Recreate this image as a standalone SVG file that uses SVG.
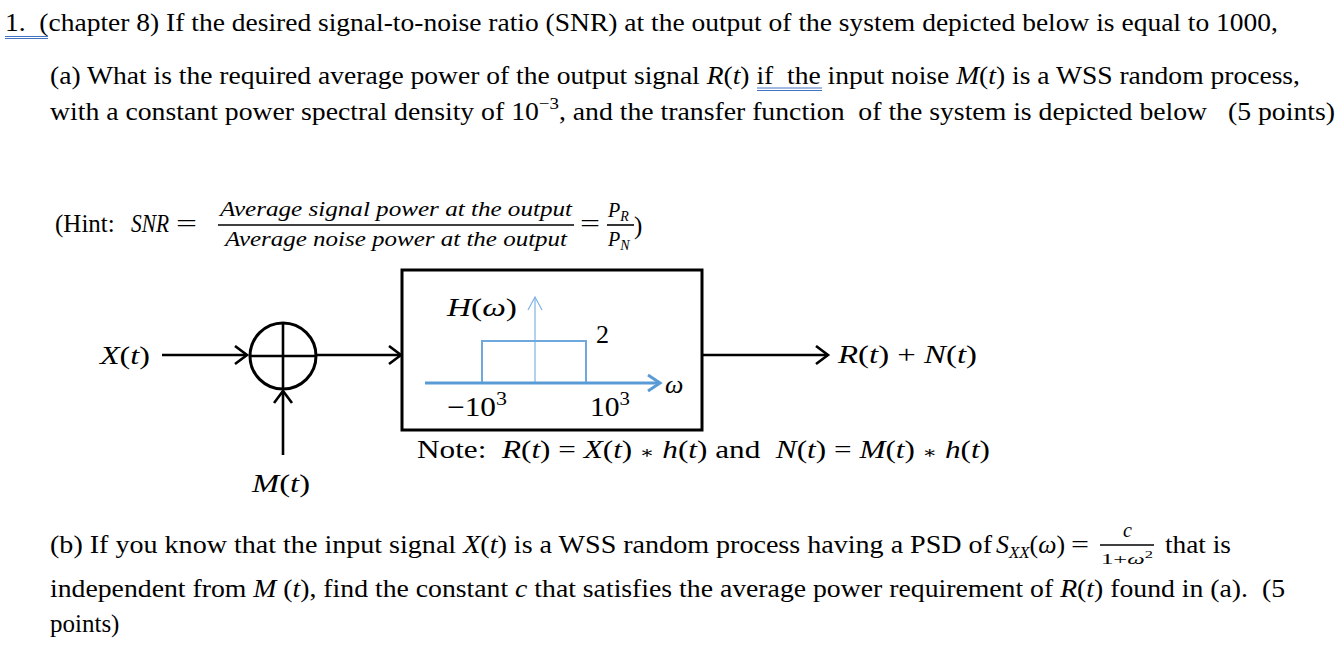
<svg xmlns="http://www.w3.org/2000/svg" width="1343" height="647" viewBox="0 0 1343 647">
<style>
text{font-family:"Liberation Serif","Times New Roman",serif;fill:#000;white-space:pre}
.t{font-size:25px}
.m{font-size:26px}
.i{font-style:italic}
.f{font-size:20px;font-style:italic}
.op{font-family:"DejaVu Serif",serif;font-size:17px;font-style:normal}
.k{stroke:#000;fill:none}
.ul{stroke:#4472C4;stroke-width:1;fill:none}
</style>
<defs>
<marker id="ah" markerUnits="userSpaceOnUse" markerWidth="20" markerHeight="24" refX="14" refY="10" orient="auto" viewBox="0 0 20 24">
<path d="M2,1 L14,10 L2,19" fill="none" stroke="#000" stroke-width="2.6"/>
</marker>
<marker id="bh" markerUnits="userSpaceOnUse" markerWidth="20" markerHeight="24" refX="14" refY="10" orient="auto" viewBox="0 0 20 24">
<path d="M2,2 L14,10 L2,18" fill="none" stroke="#5B9BD5" stroke-width="3"/>
</marker>
<marker id="vh" markerUnits="userSpaceOnUse" markerWidth="20" markerHeight="24" refX="14" refY="10" orient="auto" viewBox="0 0 20 24">
<path d="M1,3 L14,10 L1,17" fill="none" stroke="#7FB2E5" stroke-width="1.2"/>
</marker>
</defs>

<g id="question-text">
<text class="t" x="5" y="31" textLength="1273" lengthAdjust="spacingAndGlyphs">1.  (chapter 8) If the desired signal-to-noise ratio (SNR) at the output of the system depicted below is equal to 1000,</text>
<path class="ul" d="M5,36.5 H48 M5,38.5 H48"/>
<text class="t" x="50" y="84" textLength="1250" lengthAdjust="spacingAndGlyphs">(a) What is the required average power of the output signal <tspan class="i">R</tspan>(<tspan class="i">t</tspan>) if  the input noise <tspan class="i">M</tspan>(<tspan class="i">t</tspan>) is a WSS random process,</text>
<path class="ul" d="M757,88 H822 M757,90.5 H822"/>
<text class="t" x="50" y="120" textLength="1285" lengthAdjust="spacingAndGlyphs">with a constant power spectral density of 10<tspan font-size="17" dy="-11">−3</tspan><tspan dy="11">, and the transfer function  of the system is depicted below   (5 points)</tspan></text>
</g>

<g id="hint">
<text class="t" x="55" y="232">(Hint: </text>
<text class="m i" x="131" y="232" textLength="38" lengthAdjust="spacingAndGlyphs">SNR</text>
<text class="m" x="176" y="232" textLength="21" lengthAdjust="spacingAndGlyphs">=</text>
<text class="f" x="220" y="216" textLength="352" lengthAdjust="spacingAndGlyphs">Average signal power at the output</text>
<line class="k" x1="218" y1="225" x2="574" y2="225" stroke-width="1.6"/>
<text class="f" x="225" y="246" textLength="342" lengthAdjust="spacingAndGlyphs">Average noise power at the output</text>
<text class="m" x="580" y="232" textLength="20" lengthAdjust="spacingAndGlyphs">=</text>
<text class="f" x="608" y="217">P<tspan font-size="14" dy="4">R</tspan></text>
<line class="k" x1="607" y1="225" x2="634" y2="225" stroke-width="1.6"/>
<text class="f" x="608" y="246">P<tspan font-size="14" dy="4">N</tspan></text>
<text class="t" x="634" y="234">)</text>
</g>

<g id="connectors">
<line class="k" x1="162" y1="355" x2="247" y2="355" stroke-width="2.6" marker-end="url(#ah)"/>
<line class="k" x1="316" y1="355" x2="401" y2="355" stroke-width="2.6" marker-end="url(#ah)"/>
<line class="k" x1="283" y1="455" x2="283" y2="391" stroke-width="2.6" marker-end="url(#ah)"/>
<line class="k" x1="702" y1="355" x2="828" y2="355" stroke-width="2.6" marker-end="url(#ah)"/>
</g>

<g id="input-x">
<text class="m" x="100" y="364" textLength="50" lengthAdjust="spacingAndGlyphs"><tspan class="i">X</tspan>(<tspan class="i">t</tspan>)</text>
</g>

<g id="adder">
<circle class="k" cx="283" cy="356" r="33" stroke-width="3"/>
<line class="k" x1="250" y1="356" x2="316" y2="356" stroke-width="2.6"/>
<line class="k" x1="283" y1="323" x2="283" y2="389" stroke-width="2.6"/>
</g>

<g id="input-m">
<text class="m" x="252" y="492" textLength="58" lengthAdjust="spacingAndGlyphs"><tspan class="i">M</tspan>(<tspan class="i">t</tspan>)</text>
</g>

<g id="filter">
<rect class="k" x="402" y="270" width="300" height="160" stroke-width="3"/>
<text class="m" x="447" y="316" textLength="70" lengthAdjust="spacingAndGlyphs"><tspan class="i">H</tspan>(<tspan class="i">ω</tspan>)</text>
<line x1="535" y1="384" x2="535" y2="297" stroke="#7FB2E5" stroke-width="1.2" marker-end="url(#vh)"/>
<rect x="482" y="341" width="104" height="42" fill="none" stroke="#6FA8DC" stroke-width="2"/>
<line x1="425" y1="383" x2="660" y2="383" stroke="#5B9BD5" stroke-width="3" marker-end="url(#bh)"/>
<text class="m i" x="665" y="393">ω</text>
<text class="m" x="596" y="343">2</text>
<text font-size="27" x="447" y="416" textLength="60" lengthAdjust="spacingAndGlyphs">−10<tspan font-size="19" dy="-11">3</tspan></text>
<text font-size="27" x="590" y="416" textLength="40" lengthAdjust="spacingAndGlyphs">10<tspan font-size="19" dy="-11">3</tspan></text>
</g>

<g id="output">
<text class="m" x="838" y="363" textLength="139" lengthAdjust="spacingAndGlyphs"><tspan class="i">R</tspan>(<tspan class="i">t</tspan>) + <tspan class="i">N</tspan>(<tspan class="i">t</tspan>)</text>
</g>

<g id="note">
<text class="t" x="417" y="458" textLength="573" lengthAdjust="spacingAndGlyphs">Note:  <tspan class="i">R</tspan>(<tspan class="i">t</tspan>) = <tspan class="i">X</tspan>(<tspan class="i">t</tspan>) <tspan class="op">∗</tspan> <tspan class="i">h</tspan>(<tspan class="i">t</tspan>) and  <tspan class="i">N</tspan>(<tspan class="i">t</tspan>) = <tspan class="i">M</tspan>(<tspan class="i">t</tspan>) <tspan class="op">∗</tspan> <tspan class="i">h</tspan>(<tspan class="i">t</tspan>)</text>
</g>

<g id="part-b">
<text class="t" x="50" y="553" textLength="942" lengthAdjust="spacingAndGlyphs">(b) If you know that the input signal <tspan class="i">X</tspan>(<tspan class="i">t</tspan>) is a WSS random process having a PSD of</text>
<text class="m" x="996" y="553" textLength="69" lengthAdjust="spacingAndGlyphs"><tspan class="i">S</tspan><tspan class="i" font-size="17" dy="5">XX</tspan><tspan dy="-5">(</tspan><tspan class="i">ω</tspan>)</text>
<text class="m" x="1071" y="553" textLength="18" lengthAdjust="spacingAndGlyphs">=</text>
<text class="f" x="1123" y="537" font-size="18">c</text>
<line class="k" x1="1100" y1="545" x2="1154" y2="545" stroke-width="1.4"/>
<text x="1101" y="564" font-size="15" font-family="DejaVu Sans" textLength="52" lengthAdjust="spacingAndGlyphs">1+<tspan font-style="italic">ω</tspan><tspan font-size="10" dy="-6">2</tspan></text>
<text class="t" x="1165" y="553" textLength="66" lengthAdjust="spacingAndGlyphs">that is</text>
<text class="t" x="50" y="597" textLength="1235" lengthAdjust="spacingAndGlyphs">independent from <tspan class="i">M</tspan> (<tspan class="i">t</tspan>), find the constant <tspan class="i">c</tspan> that satisfies the average power requirement of <tspan class="i">R</tspan>(<tspan class="i">t</tspan>) found in (a).  (5</text>
<text class="t" x="50" y="632">points)</text>
</g>
</svg>
